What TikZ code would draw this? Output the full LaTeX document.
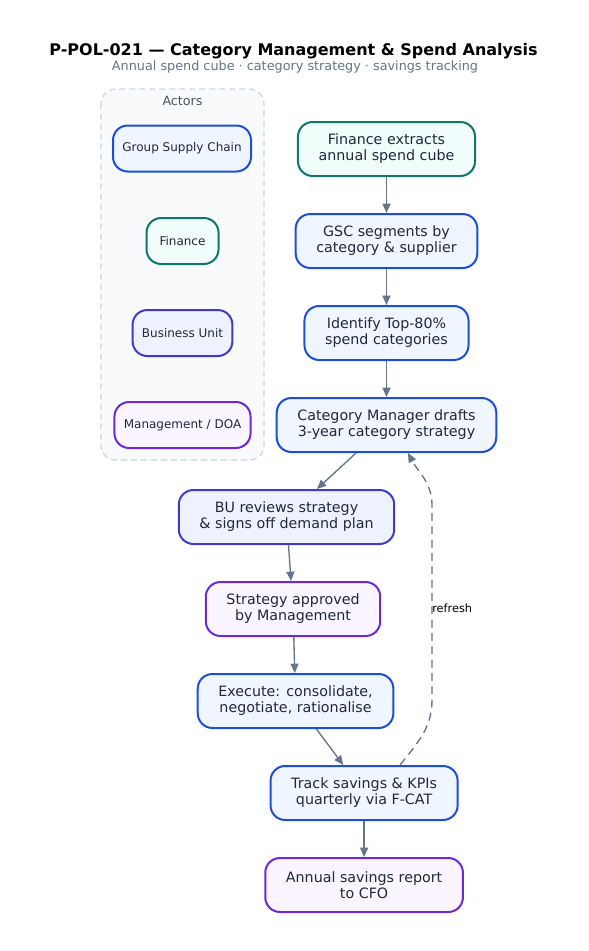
\documentclass[tikz,border=0pt]{standalone}
\usepackage{fontspec}
\setmainfont{DejaVu Sans}
\usetikzlibrary{positioning}
\usetikzlibrary{calc}
\usetikzlibrary{arrows.meta}
\definecolor{gscline}{HTML}{1D4ED8}
\definecolor{gscfill}{HTML}{EFF6FF}
\definecolor{finline}{HTML}{0F766E}
\definecolor{finfill}{HTML}{F0FDFA}
\definecolor{buline}{HTML}{4338CA}
\definecolor{bufill}{HTML}{EEF2FF}
\definecolor{mgline}{HTML}{6D28D9}
\definecolor{mgfill}{HTML}{FAF5FF}
\definecolor{edge}{HTML}{64748B}
\definecolor{ink}{HTML}{1E293B}
\definecolor{boxline}{HTML}{CBD5E1}
\definecolor{boxfill}{HTML}{F8FAFC}
\tikzset{
  proc/.style={rounded corners=11pt, line width=1.5pt, align=center, text=ink,
    minimum height=40.5pt, inner xsep=15.5pt, font=\fontsize{10.7}{12}\selectfont},
  actor/.style={proc, minimum height=34.5pt, minimum width=54pt, inner xsep=7pt,
    font=\fontsize{9}{11}\selectfont},
  gsc/.style={draw=gscline, fill=gscfill},
  fin/.style={draw=finline, fill=finfill},
  bu/.style={draw=buline, fill=bufill},
  mgmt/.style={draw=mgline, fill=mgfill},
  flow/.style={->, draw=edge, line width=1pt},
}
\begin{document}
\begin{tikzpicture}[x=0.75pt, y=-0.75pt, node distance=27pt,
    >={Triangle[length=7pt,width=6pt]}]
        \useasboundingbox (0,0) rectangle (589,951);
        % title %
        \node[anchor=base, font=\bfseries\fontsize{12}{14}\selectfont] (title) at (293.5,55.5)
            {P-POL-021 — Category Management \& Spend Analysis};
        \node[anchor=base, text=edge, font=\fontsize{9.6}{11}\selectfont] (subtitle) at (295,70)
            {Annual spend cube · category strategy · savings tracking};
        % actors %
        \draw[draw=boxline, fill=boxfill, line width=0.9pt, dash pattern=on 4.5pt off 3pt,
            rounded corners=11pt] (101,89) rectangle (264,460);
        \node[text=ink!80, font=\fontsize{9.5}{11}\selectfont] (actors) at (182.5,101) {Actors};
        \node[actor, gsc] (a1) at (182,148.5) {Group Supply Chain};
        \node[actor, fin] (a2) at (182.5,241) {Finance};
        \node[actor, bu] (a3) at (182.5,333) {Business Unit};
        \node[actor, mgmt] (a4) at (182.5,425) {Management / DOA};
        % steps %
        \node[proc, fin] (f1) at (386.5,149) {Finance extracts\\annual spend cube};
        \node[proc, gsc, below=of f1] (f2) {GSC segments by\\category \& supplier};
        \node[proc, gsc, below=of f2] (f3) {Identify Top-80\%\\spend categories};
        \node[proc, gsc, below=of f3] (f4) {Category Manager drafts\\3-year category strategy};
        \node[proc, bu, below=of f4, xshift=-75pt] (f5) {BU reviews strategy\\\& signs off demand plan};
        \node[proc, mgmt, below=of f5, xshift=4.9pt] (f6) {Strategy approved\\by Management};
        \node[proc, gsc, below=of f6, xshift=1.9pt] (f7) {Execute: consolidate,\\negotiate, rationalise};
        \node[proc, gsc, below=of f7, xshift=51.4pt] (f8) {Track savings \& KPIs\\quarterly via F-CAT};
        \node[proc, mgmt, below=of f8] (f9) {Annual savings report\\to CFO};
        % edges %
        \draw[flow] (f1) -- (f2);
        \draw[flow] (f2) -- (f3);
        \draw[flow] (f3) -- (f4);
        \draw[flow] (f4) -- (f5);
        \draw[flow] (f5) -- (f6);
        \draw[flow] (f6) -- (f7);
        \draw[flow] (f7) -- (f8);
        \draw[flow] (f8) -- (f9);
        \coordinate (r1) at (432,700);
        \coordinate (r2) at (432,505);
        \draw[flow, dash pattern=on 6pt off 4pt] ($(f8.north)+(36,0)$) to[out=52,in=-90] (r1)
            -- (r2) to[out=90,in=-62] ($(f4.south)+(21.5,0)$);
        \node[anchor=west, inner sep=0, font=\fontsize{8.5}{10}\selectfont] (refresh) at (432,608) {refresh};
\end{tikzpicture}
\end{document}
